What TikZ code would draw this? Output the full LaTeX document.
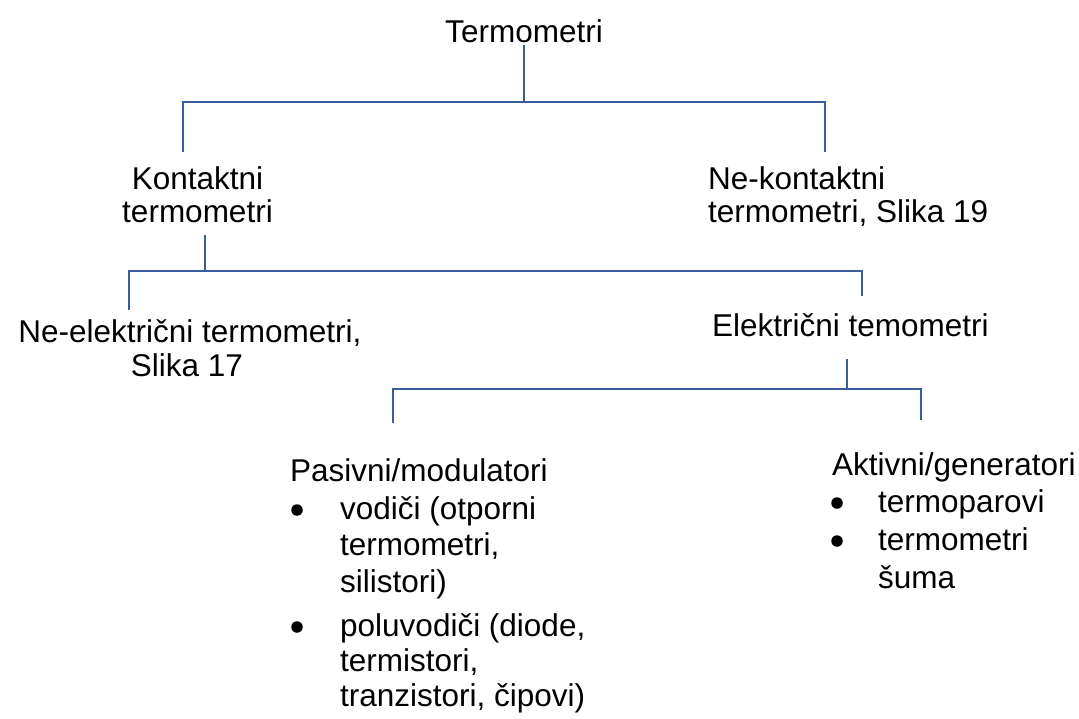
\documentclass[tikz,border=0pt]{standalone}
\usepackage{fontspec}
\setmainfont{Liberation Sans}
\definecolor{lineblue}{RGB}{58,92,152}
\begin{document}
\begin{tikzpicture}[x=1pt,y=-1pt,
  every node/.style={inner sep=0pt, font=\fontsize{31.5}{36}\selectfont},
  lbl/.style={anchor=base},
  lblw/.style={anchor=base west},
  conn/.style={draw=lineblue, line width=1.3pt},
  bul/.style={circle, fill=black, minimum size=11.5pt, inner sep=0pt}]
\useasboundingbox (0,0) rectangle (1079,718);
% texts
\node[lbl] (root) at (524,42) {Termometri};
\node[lbl] (kon1) at (197.5,189) {Kontaktni};
\node[lbl] (kon2) at (197.5,222) {termometri};
\node[lblw] (nk1) at (708,189) {Ne-kontaktni};
\node[lblw] (nk2) at (708,222) {termometri, Slika 19};
\node[lbl] (ne1) at (190,342) {Ne-električni termometri,};
\node[lbl] (ne2) at (187,376) {Slika 17};
\node[lblw] (el) at (712,336) {Električni temometri};
% passive list
\node[lblw] (pas) at (290,481) {Pasivni/modulatori};
\node[bul] (pb1) at (297,510) {};
\node[lblw] (p1a) at (340,519) {vodiči (otporni};
\node[lblw] (p1b) at (340,555) {termometri,};
\node[lblw] (p1c) at (340,592) {silistori)};
\node[bul] (pb2) at (297,627) {};
\node[lblw] (p2a) at (340,636) {poluvodiči (diode,};
\node[lblw] (p2b) at (340,671) {termistori,};
\node[lblw] (p2c) at (340,706) {tranzistori, čipovi)};
% active list
\node[lblw] (akt) at (832,475) {Aktivni/generatori};
\node[bul] (ab1) at (837,503) {};
\node[lblw] (a1) at (878,512) {termoparovi};
\node[bul] (ab2) at (837,541) {};
\node[lblw] (a2a) at (878,550) {termometri};
\node[lblw] (a2b) at (878,588) {šuma};
% connector points
\coordinate (r0) at (524,45);
\coordinate (r1) at (524,102);
\coordinate (kt) at (183,152);
\coordinate (nkt) at (825,152);
\coordinate (k0) at (205,235);
\coordinate (k1) at (205,271);
\coordinate (net) at (129,310);
\coordinate (elt) at (862,296);
\coordinate (e0) at (847,359);
\coordinate (e1) at (847,389);
\coordinate (pt) at (393,423);
\coordinate (at) at (921,420);
% connectors
\draw[conn] (r0) -- (r1);
\draw[conn] (kt) |- (r1) -| (nkt);
\draw[conn] (k0) -- (k1);
\draw[conn] (net) |- (k1) -| (elt);
\draw[conn] (e0) -- (e1);
\draw[conn] (pt) |- (e1) -| (at);
\end{tikzpicture}
\end{document}
